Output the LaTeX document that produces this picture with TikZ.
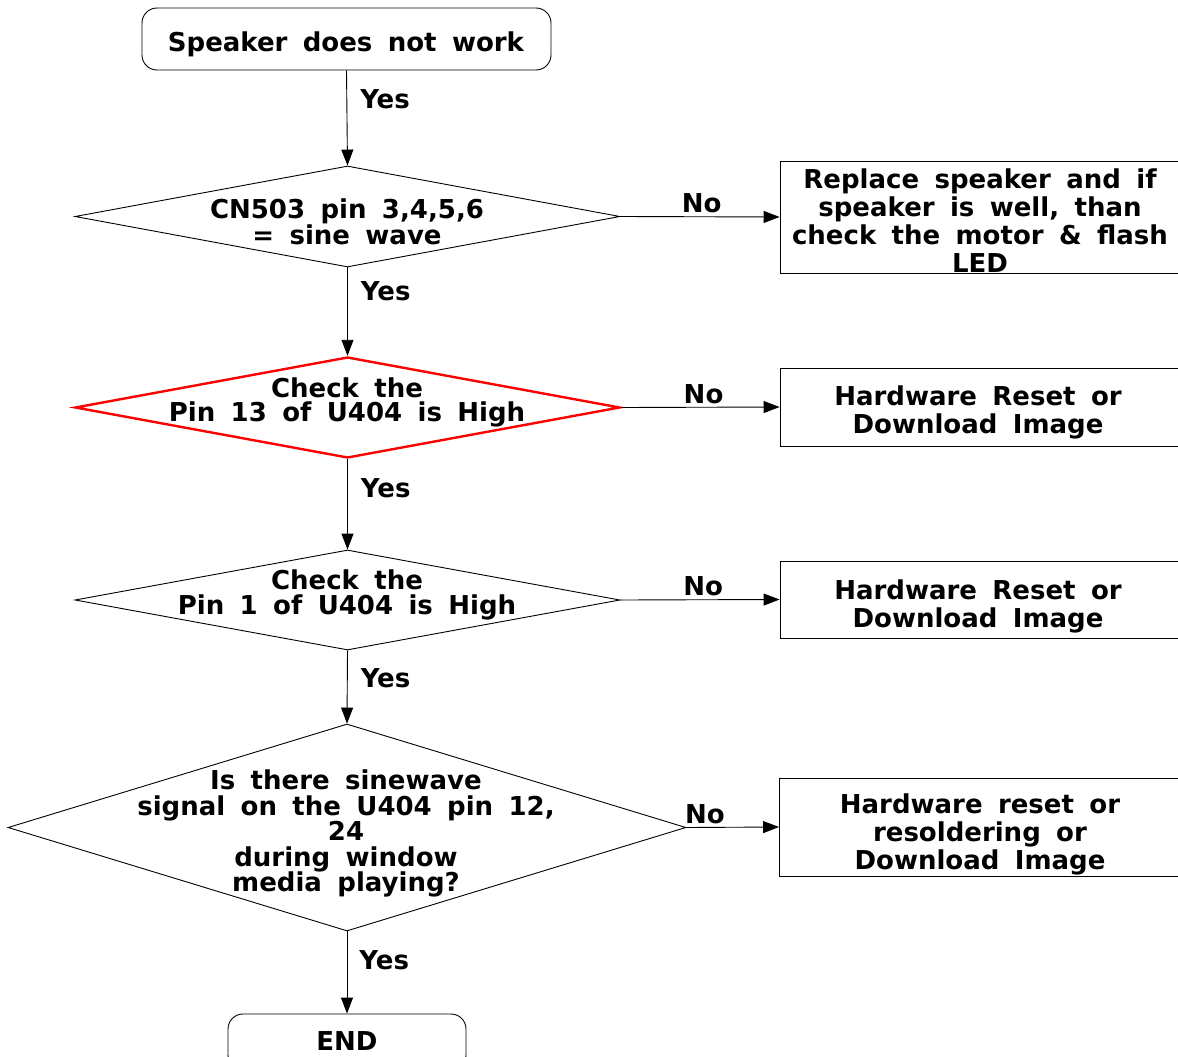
\documentclass[tikz,border=0pt]{standalone}
\usepackage{fontspec}
\setmainfont{DejaVu Sans}[WordSpace=1.7]
\usetikzlibrary{shapes.geometric,arrows.meta}
\begin{document}
\begin{tikzpicture}[x=1pt,y=-1pt,
  every node/.style={font=\fontsize{26}{28}\selectfont\bfseries},
  startbox/.style={draw, line width=0.9pt, rounded corners=15pt, minimum width=409pt, minimum height=62pt, inner sep=0pt},
  dia/.style={draw, shape=diamond, line width=0.9pt, inner sep=0pt},
  redd/.style={dia, draw=red, line width=2.4pt},
  actbox/.style={draw, line width=0.9pt, rectangle, minimum width=400pt, inner sep=0pt},
  txt/.style={align=center, inner sep=0pt},
  dtxt/.style={txt, font=\fontsize{26}{24.5}\selectfont\bfseries},
  lbl/.style={inner sep=0pt},
  arr/.style={line width=0.9pt, -{Triangle[length=16pt,width=12pt]}}
]
\useasboundingbox (0,0) rectangle (1178,1057);

% start
\node[startbox] (start) at (346.5,39) {};
\node[txt] (startt) at (346,44) {Speaker does not work};

% diamond 1
\node[dia, minimum width=545pt, minimum height=101pt] (d1) at (347.5,216.5) {};
\node[dtxt] (d1t) at (347,222) {CN503 pin 3,4,5,6\\= sine wave};
\node[actbox, minimum height=112pt] (b1) at (980,217) {};
\node[txt] (b1t) at (980,221) {Replace speaker and if\\speaker is well, than\\check the motor \& flash\\LED};

% diamond 2
\node[redd, minimum width=545pt, minimum height=101pt] (d2) at (347.5,407.5) {};
\node[dtxt] (d2t) at (347,402.5) {Check the\\Pin 13 of U404 is High};
\node[actbox, minimum height=78pt] (b2) at (980,407) {};
\node[txt] (b2t) at (978,412.5) {Hardware Reset or\\ Download Image};

% diamond 3
\node[dia, minimum width=545pt, minimum height=100pt] (d3) at (347.5,600) {};
\node[dtxt] (d3t) at (347,595) {Check the\\Pin 1 of U404 is High};
\node[actbox, minimum height=77pt] (b3) at (980,599.5) {};
\node[txt] (b3t) at (978,606) {Hardware Reset or\\ Download Image};

% diamond 4
\node[dia, minimum width=678pt, minimum height=207pt] (d4) at (347,827.5) {};
\node[txt, font=\fontsize{26}{25.5}\selectfont\bfseries] (d4t) at (346,833.5) {Is there sinewave\\signal on the U404 pin 12,\\24\\during window\\media playing?};
\node[actbox, minimum height=98pt] (b4) at (979.5,827) {};
\node[txt] (b4t) at (980,834) {Hardware reset or\\resoldering or\\Download Image};

% end
\node[startbox, minimum width=238pt, minimum height=56pt] (end) at (347,1042) {};
\node[txt] (endt) at (347,1041) {END};

% connectors
\draw[arr] (start.south) -- (d1.north) node[lbl, pos=0.3, right=13pt] {Yes};
\draw[arr] (d1.south) -- (d2.north) node[lbl, pos=0.27, right=13pt] {Yes};
\draw[arr] (d2.south) -- (d3.north) node[lbl, pos=0.32, right=13pt] {Yes};
\draw[arr] (d3.south) -- (d4.north) node[lbl, pos=0.38, right=13pt] {Yes};
\draw[arr] (d4.south) -- (end.north) node[lbl, pos=0.35, right=12pt] {Yes};

\draw[arr] (d1.east) -- (b1.west) node[lbl, pos=0.51, above=3pt] {No};
\draw[arr] (d2.east) -- (b2.west) node[lbl, pos=0.52, above=3pt] {No};
\draw[arr] (d3.east) -- (b3.west) node[lbl, pos=0.52, above=3pt] {No};
\draw[arr] (d4.east) -- (b4.west) node[lbl, pos=0.2, above=3pt] {No};
\end{tikzpicture}
\end{document}
